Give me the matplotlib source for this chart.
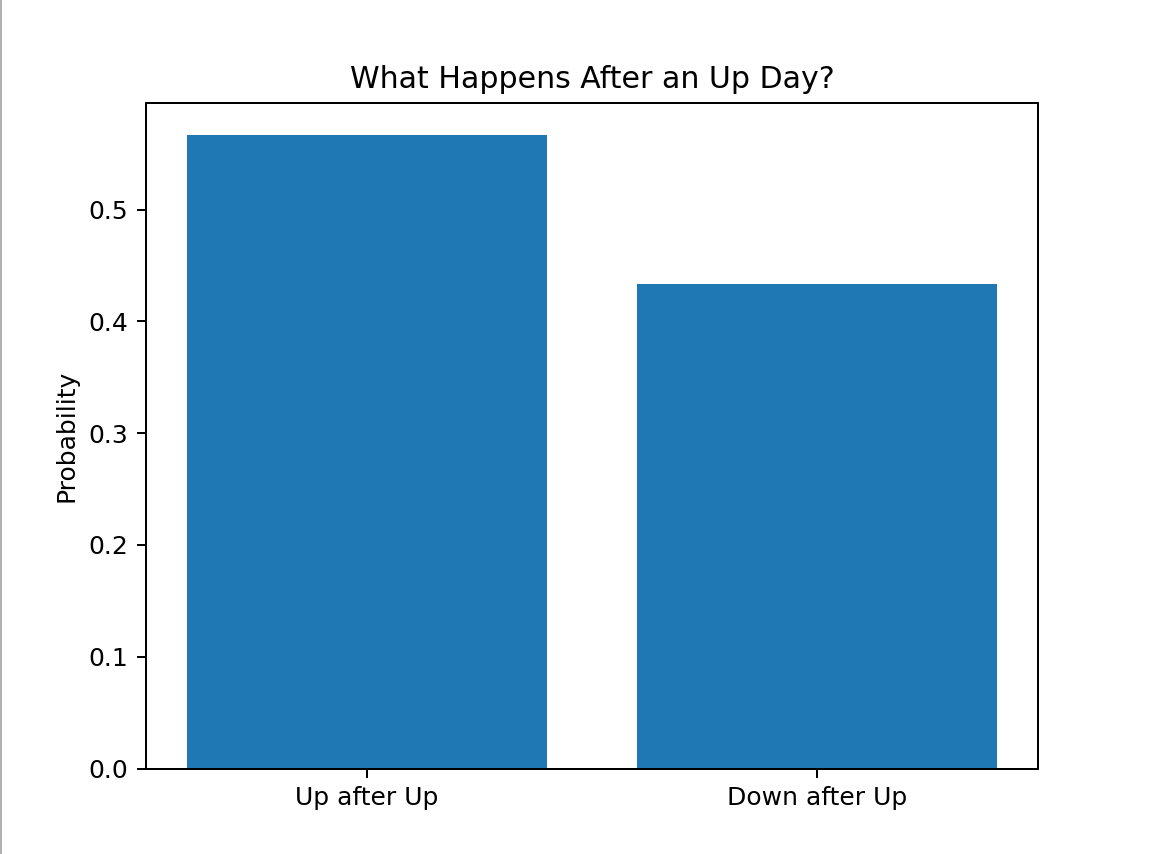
import matplotlib.pyplot as plt
from matplotlib.lines import Line2D

# Probabilités conditionnelles après un jour de hausse
categories = ["Up after Up", "Down after Up"]
probabilites = [0.567, 0.433]

fig = plt.figure(figsize=(1150 / 180, 854 / 180), dpi=180)
ax = fig.add_axes([146 / 1150, (854 - 768.5) / 854, 892 / 1150, 665.5 / 854])

ax.bar(categories, probabilites)
ax.set_title("What Happens After an Up Day?")
ax.set_ylabel("Probability")

# fine bordure grise à gauche de la capture
fig.add_artist(Line2D([0.5 / 1150, 0.5 / 1150], [0, 1], color="#b0b0b0", lw=0.8,
                      transform=fig.transFigure))

fig.savefig("out.png", dpi=180)
